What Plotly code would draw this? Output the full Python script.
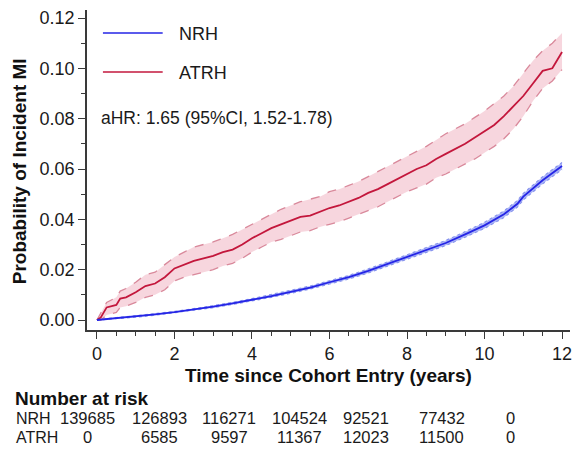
import plotly.graph_objects as go

# ---------------- data ----------------
atrh_t = [0, 0.1, 0.25, 0.5, 0.6, 0.75, 1.0, 1.25, 1.5, 1.75, 2.0, 2.25, 2.5, 2.75, 3.0, 3.25, 3.5, 3.75,
          4.0, 4.25, 4.5, 4.75, 5.0, 5.25, 5.5, 5.75, 6.0, 6.25, 6.5, 6.75, 7.0, 7.25, 7.5, 7.75,
          8.0, 8.25, 8.5, 8.75, 9.0, 9.25, 9.5, 9.75, 10.0, 10.25, 10.5, 10.75, 11.0, 11.25, 11.5, 11.75, 12.0]
atrh_p = [0.000, 0.001, 0.005, 0.006, 0.0085, 0.009, 0.011, 0.0135, 0.0145, 0.017, 0.0205, 0.022, 0.0235,
          0.0245, 0.0255, 0.027, 0.028, 0.030, 0.0325, 0.0345, 0.0365, 0.038, 0.0395, 0.041, 0.0415,
          0.043, 0.0445, 0.0455, 0.047, 0.0485, 0.0505, 0.052, 0.054, 0.056, 0.058, 0.060, 0.0615,
          0.064, 0.066, 0.068, 0.070, 0.0725, 0.075, 0.0775, 0.081, 0.085, 0.089, 0.094, 0.099,
          0.100, 0.1065]
atrh_lo = [0.000, 0.000, 0.002, 0.003, 0.005, 0.0055, 0.007, 0.009, 0.010, 0.012, 0.0155, 0.017, 0.018,
           0.019, 0.020, 0.0215, 0.0225, 0.0245, 0.027, 0.029, 0.031, 0.032, 0.0335, 0.035, 0.0355,
           0.037, 0.038, 0.039, 0.0405, 0.042, 0.0435, 0.045, 0.047, 0.049, 0.051, 0.0525, 0.054,
           0.0565, 0.058, 0.060, 0.062, 0.064, 0.0665, 0.069, 0.072, 0.076, 0.081, 0.087, 0.092,
           0.095, 0.0995]
atrh_hi = [0.000, 0.003, 0.007, 0.009, 0.0115, 0.0125, 0.015, 0.018, 0.019, 0.022, 0.025, 0.027, 0.029,
           0.030, 0.031, 0.0325, 0.034, 0.036, 0.038, 0.040, 0.042, 0.044, 0.0455, 0.047, 0.048,
           0.049, 0.051, 0.052, 0.0535, 0.055, 0.057, 0.059, 0.061, 0.063, 0.065, 0.067, 0.069,
           0.0715, 0.074, 0.076, 0.078, 0.0805, 0.083, 0.086, 0.089, 0.093, 0.098, 0.103, 0.107,
           0.110, 0.114]

nrh_t = [0, 0.5, 1.0, 1.5, 2.0, 2.5, 3.0, 3.5, 4.0, 4.5, 5.0, 5.5, 6.0, 6.5, 7.0, 7.5, 8.0, 8.5,
         9.0, 9.5, 10.0, 10.5, 10.85, 11.0, 11.5, 12.0]
nrh_p = [0.0, 0.0007, 0.0014, 0.0022, 0.0031, 0.0041, 0.0053, 0.0066, 0.0080, 0.0095, 0.0112, 0.0129,
         0.0150, 0.0170, 0.0195, 0.0222, 0.0250, 0.0278, 0.0306, 0.0340, 0.0376, 0.0420, 0.0462,
         0.0490, 0.0555, 0.0612]
nrh_lo = [0.0, 0.0004, 0.0011, 0.0019, 0.0028, 0.0037, 0.0049, 0.0062, 0.0075, 0.0090, 0.0106, 0.0123,
          0.0143, 0.0163, 0.0187, 0.0214, 0.0241, 0.0268, 0.0296, 0.0329, 0.0364, 0.0407, 0.0449,
          0.0477, 0.0541, 0.0598]
nrh_hi = [0.0, 0.0010, 0.0017, 0.0025, 0.0034, 0.0045, 0.0057, 0.0070, 0.0085, 0.0100, 0.0118, 0.0135,
          0.0157, 0.0177, 0.0203, 0.0230, 0.0259, 0.0288, 0.0316, 0.0351, 0.0388, 0.0433, 0.0475,
          0.0503, 0.0569, 0.0626]

x_ticks = [0, 2, 4, 6, 8, 10, 12]
y_ticks = [0.00, 0.02, 0.04, 0.06, 0.08, 0.10, 0.12]
y_tick_labels = ["0.00", "0.02", "0.04", "0.06", "0.08", "0.10", "0.12"]

risk_groups = ["NRH", "ATRH"]
risk_nrh = ["139685", "126893", "116271", "104524", "92521", "77432", "0"]
risk_atrh = ["0", "6585", "9597", "11367", "12023", "11500", "0"]

hr_text = "aHR: 1.65 (95%CI, 1.52-1.78)"

# ---------------- styles ----------------
FONT = "Liberation Sans, Arial, sans-serif"
RED = "#c3173c"
RED_FILL = "rgba(240,180,195,0.55)"
RED_EDGE = "#d9899b"
BLUE = "#2525e6"
BLUE_FILL = "rgba(120,135,240,0.6)"
BLUE_EDGE = "#8894ee"
AXIS = "#3a3a3a"
TXT = "#1a1a1a"

W, H = 576, 451
ML, MR, MT, MB = 87, 4, 10, 121
PW, PH = W - ML - MR, H - MT - MB

fig = go.Figure()

# ATRH CI band
fig.add_trace(go.Scatter(x=atrh_t, y=atrh_lo, mode="lines",
                         line=dict(color=RED_EDGE, width=1.3, dash="dash"), showlegend=False, hoverinfo="skip"))
fig.add_trace(go.Scatter(x=atrh_t, y=atrh_hi, mode="lines", fill="tonexty", fillcolor=RED_FILL,
                         line=dict(color=RED_EDGE, width=1.3, dash="dash"), showlegend=False, hoverinfo="skip"))
fig.add_trace(go.Scatter(x=atrh_t, y=atrh_p, mode="lines", name="ATRH",
                         line=dict(color=RED, width=1.8), showlegend=False))

# NRH CI band
fig.add_trace(go.Scatter(x=nrh_t, y=nrh_lo, mode="lines",
                         line=dict(color=BLUE_EDGE, width=1.2, dash="dot"), showlegend=False, hoverinfo="skip"))
fig.add_trace(go.Scatter(x=nrh_t, y=nrh_hi, mode="lines", fill="tonexty", fillcolor=BLUE_FILL,
                         line=dict(color=BLUE_EDGE, width=1.2, dash="dot"), showlegend=False, hoverinfo="skip"))
fig.add_trace(go.Scatter(x=nrh_t, y=nrh_p, mode="lines", name="NRH",
                         line=dict(color=BLUE, width=1.8), showlegend=False))


def px_x(px):
    return (px - ML) / PW


def px_y(py):
    return (H - MB - py) / PH


shapes = []
annotations = []

# legend drawn manually
for label, color, py in [("NRH", BLUE, 33), ("ATRH", RED, 72)]:
    shapes.append(dict(type="line", xref="paper", yref="paper",
                       x0=px_x(103), x1=px_x(163), y0=px_y(py), y1=px_y(py),
                       line=dict(color=color, width=1.4)))
    annotations.append(dict(text=label, xref="paper", yref="paper", x=px_x(177), y=px_y(py + 1),
                            xanchor="left", yanchor="middle", showarrow=False,
                            font=dict(family=FONT, size=18, color=TXT)))

annotations.append(dict(text=hr_text, xref="paper", yref="paper", x=px_x(99), y=px_y(118),
                        xanchor="left", yanchor="middle", showarrow=False,
                        font=dict(family=FONT, size=17.5, color=TXT)))

# axis titles
annotations.append(dict(text="<b>Time since Cohort Entry (years)</b>", xref="paper", yref="paper",
                        x=px_x(330), y=px_y(375), xanchor="center", yanchor="middle", showarrow=False,
                        font=dict(family=FONT, size=19, color="#111")))
annotations.append(dict(text="<b>Probability of Incident MI</b>", xref="paper", yref="paper",
                        x=px_x(19), y=px_y(171), xanchor="center", yanchor="middle", showarrow=False,
                        textangle=-90, font=dict(family=FONT, size=19, color="#111")))

# number at risk table
annotations.append(dict(text="<b>Number at risk</b>", xref="paper", yref="paper",
                        x=px_x(13), y=px_y(398), xanchor="left", yanchor="middle", showarrow=False,
                        font=dict(family=FONT, size=19, color="#111")))
col_px = [87.5, 160, 230, 300, 367, 443, 512]
for row_py, grp, vals in [(418, risk_groups[0], risk_nrh), (437, risk_groups[1], risk_atrh)]:
    annotations.append(dict(text=grp, xref="paper", yref="paper", x=px_x(14), y=px_y(row_py),
                            xanchor="left", yanchor="middle", showarrow=False,
                            font=dict(family=FONT, size=16, color=TXT)))
    for cx, v in zip(col_px, vals):
        annotations.append(dict(text=v, xref="paper", yref="paper", x=px_x(cx), y=px_y(row_py),
                                xanchor="center", yanchor="middle", showarrow=False,
                                font=dict(family=FONT, size=16.5, color=TXT)))

x0_px, x12_px = 97.0, 564.0
sx = (x12_px - x0_px) / 12
xr = [(ML - x0_px) / sx, (W - MR - x0_px) / sx]
y0_px, y12_px = 320.0, 18.0
sy = (y0_px - y12_px) / 0.12
yr = [-(H - MB - y0_px) / sy, (y0_px - MT) / sy]

fig.update_layout(
    width=W, height=H,
    margin=dict(l=ML, r=MR, t=MT, b=MB, pad=0),
    plot_bgcolor="white", paper_bgcolor="white",
    showlegend=False,
    shapes=shapes, annotations=annotations,
    xaxis=dict(range=xr, tickvals=x_ticks, ticktext=[str(v) for v in x_ticks],
               showgrid=False, zeroline=False, showline=True, linecolor=AXIS, linewidth=1.5,
               ticks="outside", ticklen=7, tickwidth=1.2, tickcolor=AXIS, ticklabelstandoff=0,
               minor=dict(dtick=0.5, tick0=0, ticks="outside", ticklen=4, tickcolor=AXIS, tickwidth=1),
               tickfont=dict(family=FONT, size=18, color=TXT)),
    yaxis=dict(range=yr, tickvals=y_ticks, ticktext=y_tick_labels,
               showgrid=False, zeroline=False, showline=True, linecolor=AXIS, linewidth=1.5,
               ticks="outside", ticklen=7, tickwidth=1.2, tickcolor=AXIS, ticklabelstandoff=0,
               minor=dict(dtick=0.01, tick0=0, ticks="outside", ticklen=4, tickcolor=AXIS, tickwidth=1),
               tickfont=dict(family=FONT, size=18, color=TXT)),
)

fig.write_html("out.html", config={"displayModeBar": False},
               post_script="document.body.style.margin='0';document.body.style.overflow='hidden';")
